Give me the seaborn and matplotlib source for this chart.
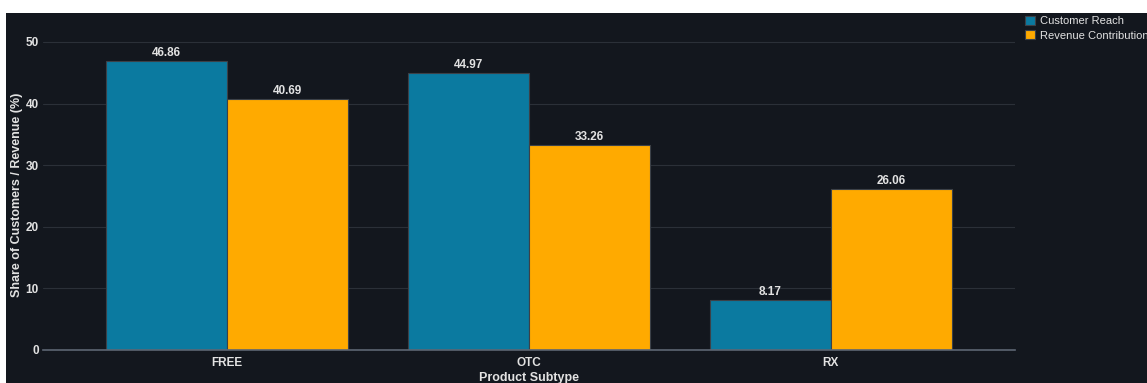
import matplotlib
matplotlib.use("Agg")
import matplotlib.pyplot as plt
from matplotlib.patches import Rectangle
import pandas as pd
import seaborn as sns

# Share of customers vs share of revenue by product subtype
subtypes = ["FREE", "OTC", "RX"]
customer_reach = [46.86, 44.97, 8.17]
revenue_contribution = [40.69, 33.26, 26.06]
series_names = ["Customer Reach", "Revenue Contribution"]
series_colors = ["#0b7aa0", "#ffaa00"]

df = pd.DataFrame({
    "Product Subtype": subtypes * 2,
    "Share": customer_reach + revenue_contribution,
    "Metric": [series_names[0]] * len(subtypes) + [series_names[1]] * len(subtypes),
})

BG = "#13171e"
TXT = "#e2e2e2"

sns.set_theme(style="dark")
plt.rcParams["font.family"] = ["Liberation Sans", "DejaVu Sans"]

W, H = 1147, 383
fig = plt.figure(figsize=(W / 100, H / 100), dpi=100, facecolor="white")
# dark panel (leaves a thin white margin at top and left)
fig.patches.append(Rectangle((6 / W, 0), 1 - 6 / W, 1 - 13 / H,
                             transform=fig.transFigure, facecolor=BG,
                             edgecolor="none", zorder=-10))

ax = fig.add_axes([43 / W, (H - 350) / H, (1015 - 43) / W, (350 - 13) / H])
ax.set_facecolor(BG)

sns.barplot(data=df, x="Product Subtype", y="Share", hue="Metric",
            palette=series_colors, hue_order=series_names, order=subtypes,
            width=0.8, saturation=1, ax=ax, edgecolor="#3c4148", linewidth=0.8)

ax.set_xlim(-0.61, 2.61)
ax.set_ylim(0, 54.7)
ax.set_yticks([0, 10, 20, 30, 40, 50])
ax.grid(axis="y", color="#2b3038", linewidth=0.8)
ax.grid(axis="x", visible=False)
ax.set_axisbelow(True)
for s in ["top", "right", "left"]:
    ax.spines[s].set_visible(False)
ax.spines["bottom"].set_color("#5d6673")
ax.spines["bottom"].set_linewidth(1.2)

ax.tick_params(axis="y", colors=TXT, labelsize=8.5, length=0, pad=3)
ax.tick_params(axis="x", colors=TXT, labelsize=8.5, length=3, width=0.8,
               pad=2, color="#5d6673")
for lbl in ax.get_yticklabels() + ax.get_xticklabels():
    lbl.set_fontweight("bold")

ax.set_xlabel("Product Subtype", color=TXT, fontsize=9, fontweight="bold",
              va="center")
ax.xaxis.set_label_coords(0.5, -0.082)
ax.set_ylabel("Share of Customers / Revenue (%)", color=TXT, fontsize=9,
              fontweight="bold", va="center")
ax.yaxis.set_label_coords(-0.0267, 0.46)

for cont in ax.containers:
    ax.bar_label(cont, fmt="%.2f", color=TXT, fontsize=8.5, fontweight="bold",
                 padding=1.5)

leg = ax.legend(loc="upper left", bbox_to_anchor=(1.006, 1.005),
                frameon=False, fontsize=8, labelcolor=TXT, handlelength=0.9,
                handleheight=0.9, handletextpad=0.4, borderaxespad=0,
                labelspacing=0.35)

fig.savefig("out.png", dpi=100, facecolor=fig.get_facecolor())
